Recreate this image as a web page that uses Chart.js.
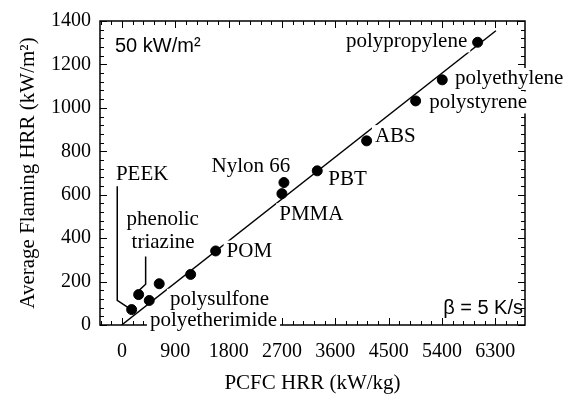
<!DOCTYPE html>
<html lang="en">
<head>
  <meta charset="UTF-8" />
  <title>Average Flaming HRR vs PCFC HRR</title>
  <script src="https://cdn.jsdelivr.net/npm/chart.js"></script>
  <style>
    html, body { margin: 0; padding: 0; background: #fff; }
    #wrap { width: 578px; height: 400px; }
  </style>
</head>
<body>
  <div id="wrap"><canvas id="hrrChart" width="578" height="400"></canvas></div>
  <script>
    // measured points: PCFC HRR (kW/kg) vs average flaming HRR (kW/m2)
    const materials = ['PEEK', 'phenolic triazine', 'polyetherimide', 'polysulfone', 'PC', 'POM', 'PMMA', 'Nylon 66', 'PBT', 'ABS', 'polystyrene', 'polyethylene', 'polypropylene'];
    const pcfcHrr = [164, 282, 461, 629, 1159, 1581, 2699, 2733, 3295, 4128, 4955, 5404, 6001];
    const flamingHrr = [71, 140, 113, 190, 233, 341, 605, 656, 710, 848, 1032, 1129, 1302];

    // correlation line
    const fitX = [-5, 6309];
    const fitY = [0, 1355];

    // leader lines from labels to points
    const peekLeadX = [-79, -79, 106];
    const peekLeadY = [639, 113, 80];
    const triazineLeadX = [400, 400, 248];
    const triazineLeadY = [315, 188, 149];

    // point labels, anchored in data units (left edge, middle)
    const labelText = ['PEEK', 'phenolic', 'triazine', 'polyetherimide', 'polysulfone', 'POM', 'PMMA', 'Nylon 66', 'PBT', 'ABS', 'polystyrene', 'polyethylene', 'polypropylene'];
    const labelX = [-101, 79, 163, 472, 810, 1766, 2654, 1513, 3481, 4268, 5184, 5618, 3779];
    const labelY = [695, 488, 380, 22, 116, 338, 510, 728, 668, 870, 1025, 1133, 1306];

    const xTicks = [0, 900, 1800, 2700, 3600, 4500, 5400, 6300];
    const yTicks = [0, 200, 400, 600, 800, 1000, 1200, 1400];

    const serif = 'Liberation Serif';
    const sans = 'Liberation Sans';

    const toXY = (xs, ys) => xs.map((v, i) => ({ x: v, y: ys[i] }));

    // frame with inward ticks on all four sides
    const frameTicks = {
      id: 'frameTicks',
      beforeDatasetsDraw(chart) {
        const { ctx, chartArea: a, scales: { x, y } } = chart;
        ctx.save();
        ctx.strokeStyle = '#000';
        ctx.lineWidth = 1.5;
        ctx.strokeRect(a.left, a.top, a.right - a.left, a.bottom - a.top);
        ctx.lineWidth = 1;
        ctx.beginPath();
        for (let v = -360; v <= x.max; v += 180) {
          const px = Math.round(x.getPixelForValue(v)) + 0.5;
          const len = v % 900 === 0 ? 7 : 4;
          ctx.moveTo(px, a.bottom); ctx.lineTo(px, a.bottom - len);
          ctx.moveTo(px, a.top); ctx.lineTo(px, a.top + len);
        }
        for (let v = 0; v <= y.max; v += 40) {
          const py = Math.round(y.getPixelForValue(v)) + 0.5;
          const len = v % 200 === 0 ? 7 : 4;
          ctx.moveTo(a.left, py); ctx.lineTo(a.left + len, py);
          ctx.moveTo(a.right, py); ctx.lineTo(a.right - len, py);
        }
        ctx.stroke();

        ctx.fillStyle = '#000';
        ctx.font = '20px "' + sans + '"';
        ctx.textBaseline = 'middle';
        ctx.textAlign = 'left';
        ctx.fillText('50 kW/m\u00B2', a.left + 15, a.top + 25);
        ctx.textAlign = 'right';
        ctx.fillText('\u03B2 = 5 K/s', a.right - 2, a.bottom - 17);
        ctx.restore();
      },
      afterDatasetDraw(chart, args) {
        if (args.index !== 1) return;
        const { ctx, scales: { x, y } } = chart;
        ctx.save();
        ctx.font = '21px "' + serif + '"';
        ctx.textBaseline = 'middle';
        ctx.textAlign = 'left';
        labelText.forEach((t, i) => {
          const px = x.getPixelForValue(labelX[i]);
          const py = y.getPixelForValue(labelY[i]);
          const w = ctx.measureText(t).width;
          ctx.fillStyle = '#fff';
          ctx.fillRect(px - 3, py - 11, w + 6, 22);
          ctx.fillStyle = '#000';
          ctx.fillText(t, px, py);
        });
        ctx.restore();
      }
    };

    new Chart(document.getElementById('hrrChart'), {
      type: 'scatter',
      data: {
        datasets: [
          {
            label: 'Materials',
            data: toXY(pcfcHrr, flamingHrr),
            backgroundColor: '#000',
            borderColor: '#000',
            pointRadius: 5,
            order: 0
          },
          {
            label: 'Fit',
            data: toXY(fitX, fitY),
            showLine: true,
            borderColor: '#000',
            borderWidth: 1.5,
            pointRadius: 0,
            order: 2
          },
          {
            label: 'PEEK leader',
            data: toXY(peekLeadX, peekLeadY),
            showLine: true,
            borderColor: '#000',
            borderWidth: 1.5,
            pointRadius: 0,
            order: 1
          },
          {
            label: 'triazine leader',
            data: toXY(triazineLeadX, triazineLeadY),
            showLine: true,
            borderColor: '#000',
            borderWidth: 1.5,
            pointRadius: 0,
            order: 1
          }
        ]
      },
      options: {
        responsive: false,
        animation: false,
        layout: { padding: { top: 14, right: 53, bottom: 0, left: 0 } },
        plugins: {
          legend: { display: false },
          tooltip: { enabled: false }
        },
        scales: {
          x: {
            type: 'linear',
            min: -370,
            max: 6800,
            afterBuildTicks: s => { s.ticks = xTicks.map(v => ({ value: v })); },
            afterFit: s => { s.height = 75; },
            grid: { display: false, drawTicks: false },
            border: { display: false },
            ticks: {
              color: '#000',
              font: { family: serif, size: 20 },
              padding: 15,
              maxRotation: 0,
              autoSkip: false,
              callback: v => String(v)
            },
            title: {
              display: true,
              text: 'PCFC HRR (kW/kg)',
              color: '#000',
              font: { family: serif, size: 21 },
              padding: { top: 0, bottom: 4 }
            }
          },
          y: {
            type: 'linear',
            min: 0,
            max: 1400,
            afterBuildTicks: s => { s.ticks = yTicks.map(v => ({ value: v })); },
            afterFit: s => { s.width = 100; },
            grid: { display: false, drawTicks: false },
            border: { display: false },
            ticks: {
              color: '#000',
              font: { family: serif, size: 20 },
              padding: 9,
              autoSkip: false,
              callback: v => String(v)
            },
            title: {
              display: true,
              text: 'Average Flaming HRR (kW/m\u00B2)',
              color: '#000',
              font: { family: serif, size: 21 },
              padding: { top: 16, bottom: 0 }
            }
          }
        }
      },
      plugins: [frameTicks]
    });
  </script>
</body>
</html>
